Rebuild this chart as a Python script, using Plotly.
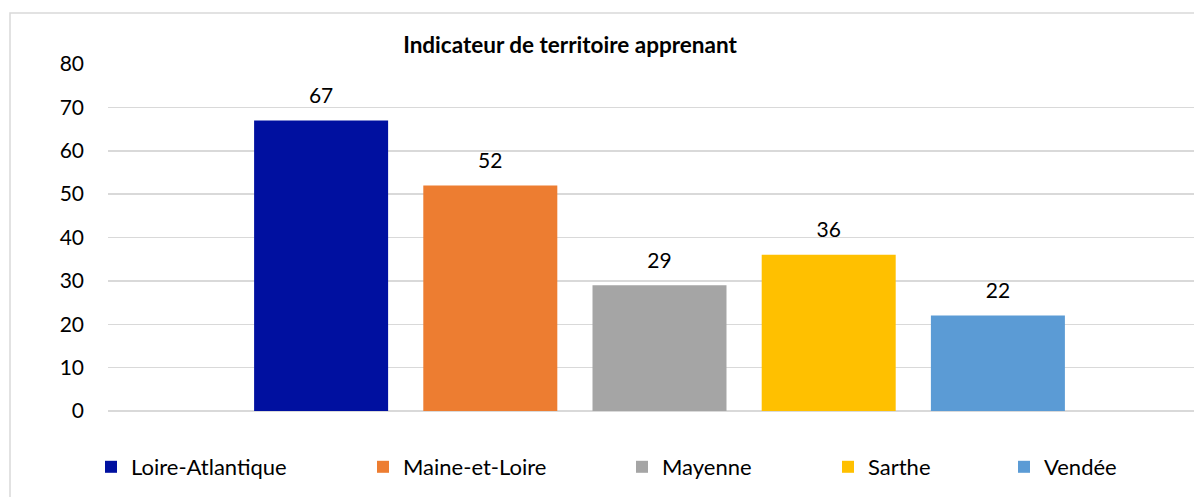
import plotly.graph_objects as go

categories = ["Loire-Atlantique", "Maine-et-Loire", "Mayenne", "Sarthe", "Vendée"]
values = [67, 52, 29, 36, 22]
colors = ["#0010A0", "#ED7D31", "#A5A5A5", "#FFC000", "#5B9BD5"]
y_ticks = [0, 10, 20, 30, 40, 50, 60, 70, 80]
title_text = "Indicateur de territoire apprenant"

FONT = "Lato"
W, H = 1194, 497
L, R, T, B = 108, 0, 64, 86
plot_w = W - L - R
plot_h = H - T - B

legend_names = ["legend", "legend2", "legend3", "legend4", "legend5"]
legend_sym_x = [111, 383, 642, 848, 1024]  # symbol centres in px

fig = go.Figure()
for i, (name, v, c) in enumerate(zip(categories, values, colors)):
    fig.add_trace(go.Bar(
        x=[""], y=[v], name=name,
        marker=dict(color=c, line=dict(width=0)),
        offsetgroup=str(i),
        legend=legend_names[i],
        hoverinfo="skip",
    ))
for i, v in enumerate(values):
    fig.add_trace(go.Scatter(
        x=[""], y=[v], mode="markers+text",
        text=[str(v)], textposition="top center",
        textfont=dict(family=FONT, size=21, color="#000000"),
        marker=dict(size=18, color="rgba(0,0,0,0)"),
        offsetgroup=str(i),
        showlegend=False, cliponaxis=False, hoverinfo="skip",
    ))

layout_legends = {}
for i, ln in enumerate(legend_names):
    layout_legends[ln] = dict(
        x=(legend_sym_x[i] - 20 - L) / plot_w,
        xanchor="left",
        y=(H - B - 467) / plot_h,
        yanchor="middle",
        orientation="h",
        font=dict(family=FONT, size=22, color="#000000"),
        bgcolor="rgba(0,0,0,0)",
        borderwidth=0,
    )

fig.update_layout(
    width=W, height=H,
    margin=dict(l=L, r=R, t=T, b=B, pad=0),
    paper_bgcolor="white", plot_bgcolor="white",
    barmode="group", bargap=0, bargroupgap=0.208,
    scattermode="group", scattergap=0,
    showlegend=True,
    title=dict(text="<b>" + title_text + "</b>", xref="container", yref="container",
               x=570 / W, y=1 - 45 / H, xanchor="center", yanchor="middle",
               font=dict(family=FONT, size=22.5, color="#000000")),
    xaxis=dict(range=[-0.6519, 0.6318], showticklabels=False, showgrid=False,
               zeroline=False, showline=False, fixedrange=True),
    yaxis=dict(range=[0, 80], tickvals=y_ticks, showgrid=True, gridcolor="#D9D9D9",
               gridwidth=1.5, zeroline=True, zerolinecolor="#D9D9D9", zerolinewidth=1.5,
               showline=False, ticks="", ticklabelstandoff=23, fixedrange=True,
               tickfont=dict(family=FONT, size=21, color="#000000")),
    shapes=[dict(type="rect", xref="paper", yref="paper",
                 x0=(10 - L) / plot_w, x1=(W + 20 - L) / plot_w,
                 y0=(H - B - (H + 20)) / plot_h, y1=(H - B - 13) / plot_h,
                 line=dict(color="#D9D9D9", width=1.5), fillcolor="rgba(0,0,0,0)",
                 layer="below")],
    **layout_legends,
)

fig.write_html("out.html", config={"displayModeBar": False, "staticPlot": True},
               post_script="document.body.style.margin='0';document.body.style.overflow='hidden';")
